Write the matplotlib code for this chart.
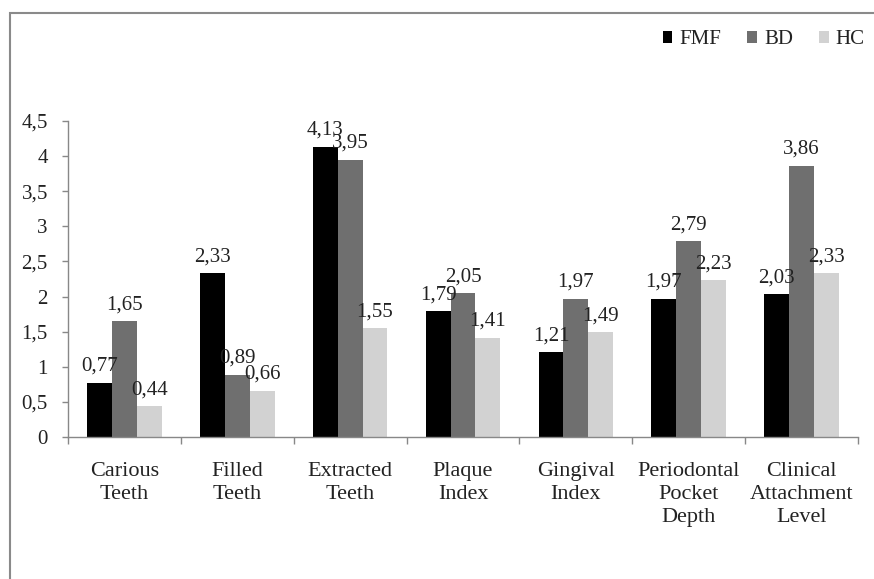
import matplotlib
matplotlib.use("Agg")
import matplotlib.pyplot as plt
from matplotlib.patches import Rectangle
from matplotlib.ticker import FixedLocator, FuncFormatter
import numpy as np

plt.rcParams['font.family'] = ['Liberation Serif', 'DejaVu Serif']

categories = ["Carious\nTeeth", "Filled\nTeeth", "Extracted\nTeeth", "Plaque\nIndex",
              "Gingival\nIndex", "Periodontal\nPocket\nDepth", "Clinical\nAttachment\nLevel"]
series_names = ["FMF", "BD", "HC"]
fmf = [0.77, 2.33, 4.13, 1.79, 1.21, 1.97, 2.03]
bd = [1.65, 0.89, 3.95, 2.05, 1.97, 2.79, 3.86]
hc = [0.44, 0.66, 1.55, 1.41, 1.49, 2.23, 2.33]
colors = ["#000000", "#6f6f6f", "#d2d2d2"]

fig = plt.figure(figsize=(8.74, 5.79), dpi=100)
ax = fig.add_axes([68 / 874, 1 - 437 / 579, 790 / 874, 316 / 579])

x = np.arange(len(categories))
width = 0.22
text_color = "#222222"


def fmt(v):
    return f"{v:.2f}".replace(".", ",")


for i, (name, vals, c) in enumerate(zip(series_names, [fmf, bd, hc], colors)):
    pos = x + (i - 1) * width
    bars = ax.bar(pos, vals, width, color=c, label=name, zorder=2)
    for b, v in zip(bars, vals):
        ax.annotate(fmt(v), (b.get_x() + b.get_width() / 2, v),
                    xytext=(0, 5), textcoords="offset points",
                    ha="center", va="bottom", fontsize=15, color=text_color)

ax.set_xlim(-0.5, len(categories) - 0.5)
ax.set_ylim(0, 4.5)
ax.set_yticks(np.arange(0, 4.51, 0.5))
ax.yaxis.set_major_formatter(FuncFormatter(
    lambda v, p: (f"{v:g}").replace(".", ",")))

ax.set_xticks(x)
ax.set_xticklabels(categories, fontsize=16, color=text_color, linespacing=1.27)
ax.xaxis.set_minor_locator(FixedLocator(np.arange(-0.5, len(categories), 1.0)))
ax.tick_params(axis="x", which="major", length=0, pad=18)
ax.tick_params(axis="x", which="minor", length=5, color="#888888", width=1)
ax.tick_params(axis="y", length=4.5, color="#888888", width=1, labelsize=15,
               labelcolor=text_color, pad=10)

for s in ["top", "right"]:
    ax.spines[s].set_visible(False)
for s in ["left", "bottom"]:
    ax.spines[s].set_color("#888888")
    ax.spines[s].set_linewidth(1)

leg = fig.legend(loc="upper right", bbox_to_anchor=(1.011, 0.98), ncol=3,
                 frameon=False, fontsize=15, handlelength=0.45, handleheight=0.45,
                 handletextpad=0.35, columnspacing=1.25)
for t in leg.get_texts():
    t.set_color(text_color)

# outer frame around the chart area
fig.patches.append(Rectangle((10 / 874, -0.05), 1.2, 1 - 13 / 579 + 0.05,
                             transform=fig.transFigure, fill=False,
                             edgecolor="#8a8a8a", linewidth=1.5))

fig.savefig("out.png", dpi=100)
